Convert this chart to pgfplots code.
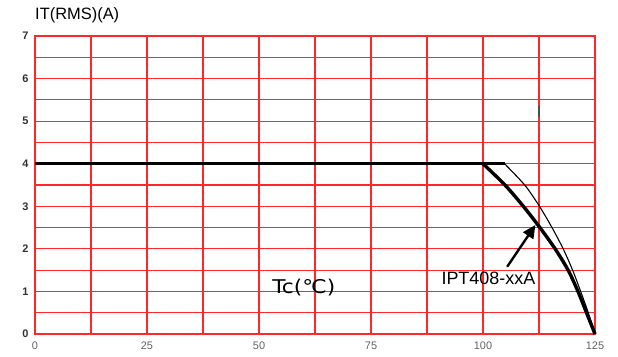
\documentclass[border=0pt]{standalone}
\usepackage{fontspec}
\setmainfont{Liberation Sans}
\newfontfamily\dejavu{DejaVu Sans}
\usepackage{pgfplots}
\pgfplotsset{compat=1.18}
\usetikzlibrary{arrows.meta}
\definecolor{gridred}{RGB}{255,40,40}
\definecolor{ticky}{RGB}{50,50,50}
\definecolor{tickx}{RGB}{100,100,100}
\begin{document}
\begin{tikzpicture}
\begin{axis}[
  scale only axis,
  width=560bp, height=298bp,
  xmin=0, xmax=125, ymin=0, ymax=7,
  xtick={0,25,50,75,100,125},
  ytick={0,1,2,3,4,5,6,7},
  minor x tick num=1,
  minor y tick num=1,
  grid=both,
  major grid style={draw=gridred, line width=1.2bp},
  minor grid style={draw=gridred, line width=1.2bp},
  axis line style={draw=gridred, line width=1.2bp},
  major tick length=0pt, minor tick length=0pt,
  /pgf/number format/assume math mode=true,
  xticklabel style={font=\fontsize{11}{12}\selectfont, text=tickx, yshift=-4bp},
  yticklabel style={font=\fontsize{11}{12}\selectfont\bfseries, text=ticky, xshift=-3bp},
  clip=false,
]
\addplot[black, line width=3.2bp] coordinates {(0,4) (104.8,4)};
\addplot[black, line width=3.4bp, smooth, tension=0.5] coordinates {
 (100,4) (104.9,3.5) (109.0,3.0) (112.7,2.5) (116.1,2.0) (119.0,1.5) (121.2,1.0) (123.1,0.5) (125,0)};
\addplot[black, line width=1.1bp, smooth, tension=0.5] coordinates {
 (104.8,4) (109.3,3.5) (112.6,3.0) (115.4,2.5) (117.9,2.0) (120.0,1.5) (121.8,1.0) (123.5,0.5) (125,0)};
\addplot[black, line width=2.4bp, -{Triangle[length=13bp,width=12bp]}] coordinates {(105.4,1.58) (111.7,2.56)};
\addplot[black!70, line width=1.2bp] coordinates {(112.5,5.1) (112.5,5.35)};
\node[font=\fontsize{18}{20}\selectfont, inner sep=0pt] at (axis cs:101.2,1.30) {IPT408-xxA};
\node[font=\dejavu\fontsize{19}{21}\selectfont, inner sep=0pt, xscale=1.15] at (axis cs:60.0,1.10) {Tc(℃)};
\node[font=\fontsize{16.5}{18}\selectfont, inner sep=0pt, anchor=west] at ([yshift=21bp]rel axis cs:0,1) {IT(RMS)(A)};
\end{axis}
\pgfresetboundingbox
\path ([xshift=-35bp,yshift=-23bp]current axis.south west) rectangle ([xshift=23bp,yshift=36bp]current axis.north east);
\end{tikzpicture}
\end{document}
